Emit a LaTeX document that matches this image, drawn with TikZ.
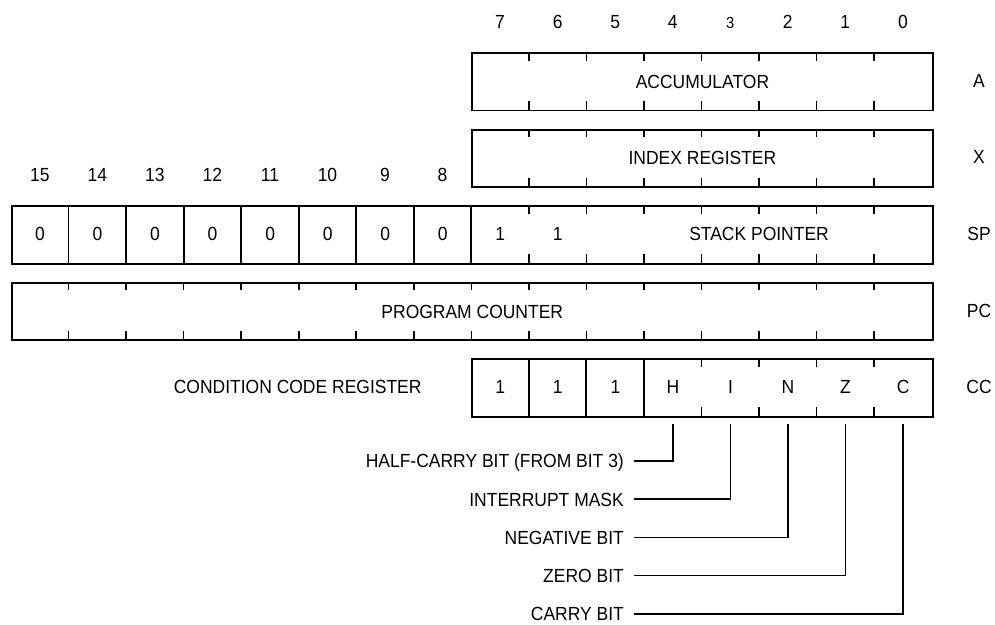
\documentclass[tikz,border=0pt]{standalone}
\usepackage{fontspec}
\setmainfont{Liberation Sans}[FakeStretch=0.92]
\begin{document}
\begin{tikzpicture}[x=1pt,y=-1pt,font=\fontsize{19}{22}\selectfont]
\useasboundingbox (0,0) rectangle (995,624);
\tikzset{
  reg/.style={draw,line width=1.9pt,minimum height=57.5pt,inner sep=0pt,anchor=north west},
  cell/.style={inner sep=0pt,minimum width=57.54pt,minimum height=57.5pt,anchor=north west},
  bitno/.style={inner sep=0pt,anchor=base},
  rname/.style={inner sep=0pt,anchor=center},
  tickmark/.style={line width=1.6pt},
  divider/.style={line width=1.9pt},
  conn/.style={line width=1.7pt},
  blabel/.style={inner sep=0pt,anchor=base east}
}
\def\cw{57.54}
\def\h{57.5}
\def\tA{52}
\def\tX{128.6}
\def\tS{205.2}
\def\tP{281.8}
\def\tC{358.4}
\def\tl{8.5}

% bit numbers 7..0
\foreach \i/\n in {8/7,9/6,10/5,11/4,13/2,14/1,15/0}
  \node[bitno] (bt\n) at (11+\i*\cw+\cw/2,28.8) {\n};
\node[bitno,font=\fontsize{16}{18}\selectfont] (bt3) at (11+12*\cw+\cw/2,28.8) {3};
% bit numbers 15..8
\foreach \i/\n in {0/15,1/14,2/13,3/12,4/11,5/10,6/9,7/8}
  \node[bitno] (bh\n) at (11+\i*\cw+\cw/2,181.7) {\n};

% Accumulator
\node[reg,minimum width=460.32pt] (acc) at (471.32,\tA) {ACCUMULATOR};
\foreach \i in {9,...,15} {
  \draw[tickmark] (11+\i*\cw,\tA) -- ++(0,\tl);
  \draw[tickmark] (11+\i*\cw,\tA+\h) -- ++(0,-\tl);
}
\node[rname] (nA) at (979,\tA+\h/2) {A};

% Index register
\node[reg,minimum width=460.32pt] (idx) at (471.32,\tX) {INDEX REGISTER};
\foreach \i in {9,...,15} {
  \draw[tickmark] (11+\i*\cw,\tX) -- ++(0,\tl);
  \draw[tickmark] (11+\i*\cw,\tX+\h) -- ++(0,-\tl);
}
\node[rname] (nX) at (979,\tX+\h/2) {X};

% Stack pointer
\node[reg,minimum width=920.64pt] (sp) at (11,\tS) {};
\foreach \i in {1,...,8}
  \draw[divider] (11+\i*\cw,\tS) -- (11+\i*\cw,\tS+\h);
\foreach \i in {9,...,15} {
  \draw[tickmark] (11+\i*\cw,\tS) -- ++(0,\tl);
  \draw[tickmark] (11+\i*\cw,\tS+\h) -- ++(0,-\tl);
}
\foreach \i in {0,...,7}
  \node[cell] (sp\i) at (11+\i*\cw,\tS) {0};
\node[cell] (sp8) at (11+8*\cw,\tS) {1};
\node[cell] (sp9) at (11+9*\cw,\tS) {1};
\node[inner sep=0pt] (spt) at (11+13*\cw,\tS+\h/2) {STACK POINTER};
\node[rname] (nSP) at (979,\tS+\h/2) {SP};

% Program counter
\node[reg,minimum width=920.64pt] (pc) at (11,\tP) {PROGRAM COUNTER};
\foreach \i in {1,...,15} {
  \draw[tickmark] (11+\i*\cw,\tP) -- ++(0,\tl);
  \draw[tickmark] (11+\i*\cw,\tP+\h) -- ++(0,-\tl);
}
\node[rname] (nPC) at (979,\tP+\h/2) {PC};

% Condition code register
\node[inner sep=0pt,anchor=east] (ccr) at (421.7,\tC+\h/2) {CONDITION CODE REGISTER};
\node[reg,minimum width=460.32pt] (cc) at (471.32,\tC) {};
\foreach \i in {9,10,11}
  \draw[divider] (11+\i*\cw,\tC) -- (11+\i*\cw,\tC+\h);
\foreach \i in {12,...,15} {
  \draw[tickmark] (11+\i*\cw,\tC) -- ++(0,\tl);
  \draw[tickmark] (11+\i*\cw,\tC+\h) -- ++(0,-\tl);
}
\foreach \i/\t/\nm in {8/1/c7,9/1/c6,10/1/c5,11/H/cH,12/I/cI,13/N/cN,14/Z/cZ,15/C/cC}
  \node[cell] (\nm) at (11+\i*\cw,\tC) {\t};
\node[rname] (nCC) at (979,\tC+\h/2) {CC};

% bit descriptions
\node[blabel] (lH) at (624,461+6.8) {HALF-CARRY BIT (FROM BIT 3)};
\node[blabel] (lI) at (624,499.2+6.8) {INTERRUPT MASK};
\node[blabel] (lN) at (624,537.4+6.8) {NEGATIVE BIT};
\node[blabel] (lZ) at (624,575.6+6.8) {ZERO BIT};
\node[blabel] (lC) at (624,613.8+6.8) {CARRY BIT};
\foreach \l/\c in {lH/cH,lI/cI,lN/cN,lZ/cZ,lC/cC}
  \draw[conn] ([xshift=10pt,yshift=6.8pt]\l.base east) -| ([yshift=-8pt]\c.south);
\end{tikzpicture}
\end{document}
